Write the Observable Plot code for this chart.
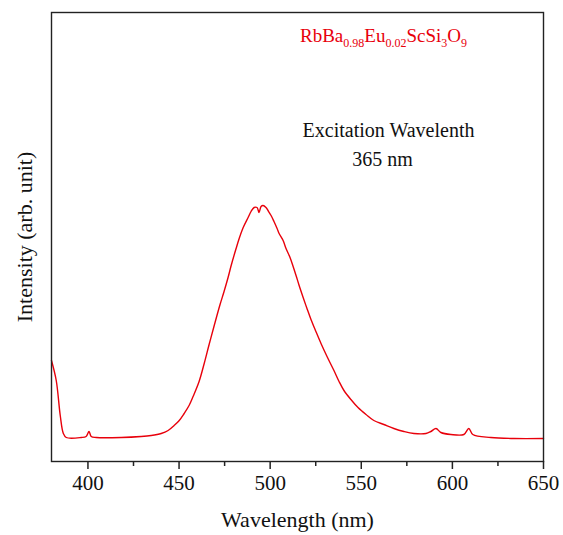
<!DOCTYPE html>
<html>
<head>
<meta charset="utf-8">
<script src="https://cdn.jsdelivr.net/npm/d3@7"></script>
<script src="https://cdn.jsdelivr.net/npm/@observablehq/plot@0.6"></script>
<style>
  html, body { margin: 0; padding: 0; background: #fff; }
  svg { display: block; }
</style>
</head>
<body>
<div id="chart"></div>
<script>
// Emission spectrum, wavelength (nm) and intensity (arb. unit)
const wavelength = [380, 382.6, 384.8, 386.5, 388.1, 396.3, 399, 400.6, 401.8, 404.6, 418.3, 429.2, 434.7, 440.2, 444, 447.3, 450.1, 452.8, 455.5, 457.7, 461, 463.8, 466.5, 469.3, 472.5, 474.7, 476.9, 478.6, 481.3, 483, 485.2, 487.9, 489.5, 491.2, 492.8, 493.9, 495, 496.1, 497.7, 498.8, 500.5, 502.1, 503.8, 504.9, 507.1, 508.7, 510.9, 512.6, 514.2, 515.9, 518.1, 520.2, 522.4, 525.1, 527.9, 531.2, 535, 537.8, 540.5, 544.3, 548.2, 552.6, 556.9, 562.4, 567.9, 573.4, 578.9, 585.5, 588.2, 591, 593.7, 599.2, 606.3, 609, 611.2, 621.1, 633.7, 650];
const intensity = [1010, 810, 460, 280, 240, 240, 250, 300, 250, 240, 240, 250, 260, 280, 310, 360, 410, 480, 560, 650, 800, 980, 1170, 1360, 1570, 1700, 1840, 1960, 2130, 2230, 2340, 2440, 2500, 2540, 2540, 2490, 2550, 2560, 2540, 2510, 2460, 2400, 2330, 2280, 2210, 2130, 2040, 1950, 1860, 1760, 1640, 1530, 1420, 1300, 1180, 1050, 910, 800, 710, 620, 540, 470, 410, 370, 330, 300, 280, 280, 300, 330, 290, 270, 270, 330, 270, 240, 230, 230];
const majorTicks = [400, 450, 500, 550, 600, 650];
const minorTicks = [425, 475, 525, 575, 625];
const xLabel = "Wavelength (nm)";
const yLabel = "Intensity (arb. unit)";
const noteLines = ["Excitation Wavelenth", "365 nm"];

const data = wavelength.map((w, i) => ({w, v: intensity[i]}));
const serif = "'Liberation Serif', 'DejaVu Serif', serif";

const chart = Plot.plot({
  width: 563,
  height: 535,
  marginLeft: 51,
  marginRight: 20,
  marginTop: 12,
  marginBottom: 74,
  style: {fontFamily: serif, background: "#fff", color: "#000"},
  x: {domain: [380, 650]},
  y: {domain: [0, 4490], axis: null},
  marks: [
    Plot.axisX({ticks: minorTicks, tickSize: 5, text: null, label: null, stroke: "#222", strokeWidth: 1.5}),
    Plot.axisX({ticks: majorTicks, tickSize: 8, tickPadding: 6, fontSize: 21, stroke: "#222", strokeWidth: 1.5, label: null, fill: "#111"}),
    Plot.line(data, {x: "w", y: "v", stroke: "#e8000b", strokeWidth: 1.4, curve: "catmull-rom"}),
    Plot.frame({stroke: "#222", strokeWidth: 1.4}),
    Plot.text([xLabel], {frameAnchor: "bottom", dy: 65, fontSize: 22, fill: "#111"}),
    Plot.text([yLabel], {frameAnchor: "left", textAnchor: "middle", dx: -27, rotate: -90, fontSize: 22, fill: "#111"}),
    Plot.text([noteLines[0]], {frameAnchor: "top-left", dx: 337, dy: 110, textAnchor: "middle", fontSize: 20, fill: "#111"}),
    Plot.text([noteLines[1]], {frameAnchor: "top-left", dx: 331, dy: 139, textAnchor: "middle", fontSize: 20, fill: "#111"})
  ]
});

// chemical formula with subscripts
const svg = d3.select(chart);
const f = svg.append("text")
  .attr("x", 300).attr("y", 42)
  .attr("text-anchor", "start")
  .attr("fill", "#e8000b")
  .attr("font-family", serif)
  .attr("font-size", 19);
const parts = [["RbBa", false], ["0.98", true], ["Eu", false], ["0.02", true], ["ScSi", false], ["3", true], ["O", false], ["9", true]];
parts.forEach(([t, sub]) => {
  f.append("tspan").text(t)
    .attr("baseline-shift", sub ? "-40%" : null)
    .attr("font-size", sub ? 12 : 19);
});

document.getElementById("chart").appendChild(chart);
</script>
</body>
</html>
